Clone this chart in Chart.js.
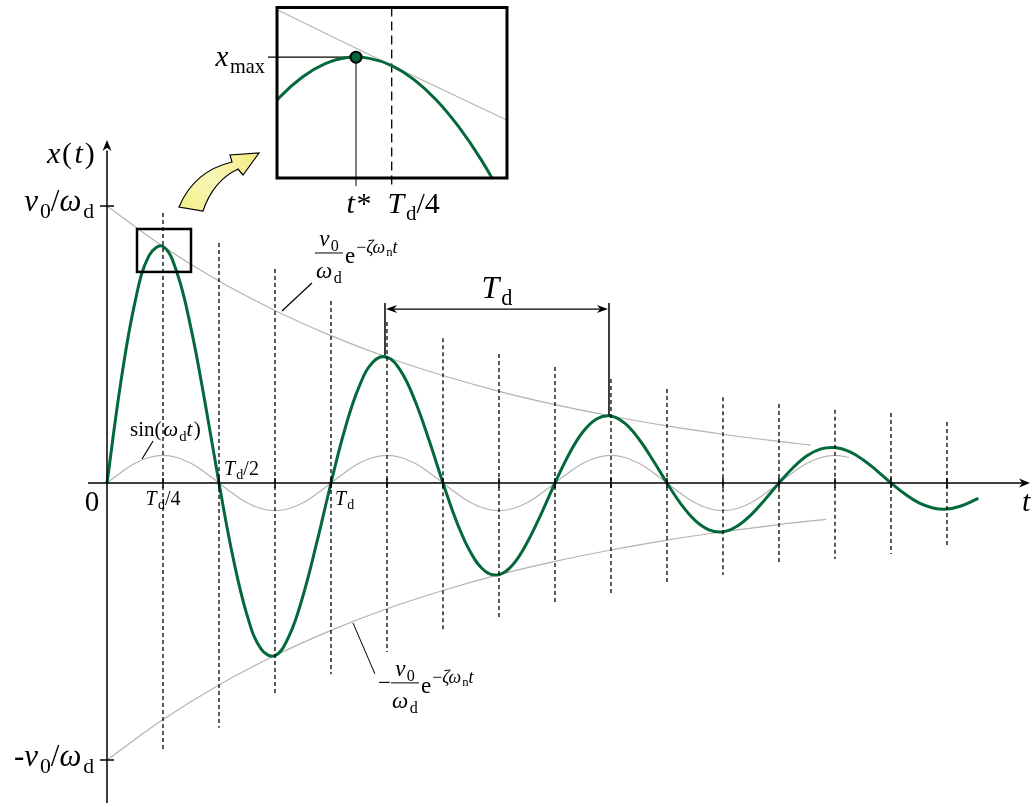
<!DOCTYPE html>
<html>
<head>
<meta charset="utf-8">
<script src="https://cdn.jsdelivr.net/npm/chart.js@4.4.1/dist/chart.umd.min.js"></script>
<style>
    html, body { margin: 0; padding: 0; background: #fff; overflow: hidden; }
    #main { position: absolute; left: 0; top: 0; width: 1032px; height: 807px; }
    #zoom { position: absolute; left: 200px; top: 0; width: 330px; height: 230px; }
</style>
</head>
<body>
<canvas id="main" width="1032" height="807"></canvas>
<canvas id="zoom" width="330" height="230"></canvas>
<script>
// time in units of Td, displacement in units of v0/wd
const tFine = [0, 0.0625, 0.125, 0.1875, 0.25, 0.3125, 0.375, 0.4375, 0.5, 0.5625, 0.625, 0.6875,
    0.75, 0.8125, 0.875, 0.9375, 1, 1.0625, 1.125, 1.1875, 1.25, 1.3125, 1.375, 1.4375, 1.5, 1.5625,
    1.625, 1.6875, 1.75, 1.8125, 1.875, 1.9375, 2, 2.0625, 2.125, 2.1875, 2.25, 2.3125, 2.375, 2.4375,
    2.5, 2.5625, 2.625, 2.6875, 2.75, 2.8125, 2.875, 2.9375, 3, 3.0625, 3.125, 3.1875, 3.25, 3.3125,
    3.375, 3.4375, 3.5, 3.5625, 3.625, 3.6875, 3.75, 3.8125, 3.875, 3.89];
const response = [0, 0.368, 0.653, 0.821, 0.854, 0.759, 0.558, 0.291, 0, -0.268, -0.476, -0.599,
    -0.623, -0.553, -0.407, -0.212, 0, 0.196, 0.347, 0.437, 0.454, 0.403, 0.297, 0.155, 0, -0.143,
    -0.253, -0.318, -0.331, -0.294, -0.216, -0.113, 0, 0.104, 0.185, 0.232, 0.242, 0.215, 0.158, 0.082,
    0, -0.076, -0.135, -0.169, -0.176, -0.156, -0.115, -0.060, 0, 0.055, 0.098, 0.123, 0.128, 0.114,
    0.084, 0.044, 0, -0.040, -0.072, -0.090, -0.094, -0.083, -0.061, -0.055];
const sineWave = [0, 0.038, 0.071, 0.092, 0.1, 0.092, 0.071, 0.038, 0, -0.038, -0.071, -0.092,
    -0.1, -0.092, -0.071, -0.038, 0, 0.038, 0.071, 0.092, 0.1, 0.092, 0.071, 0.038, 0, -0.038,
    -0.071, -0.092, -0.1, -0.092, -0.071, -0.038, 0, 0.038, 0.071, 0.092, 0.1, 0.092, 0.071, 0.038,
    0, -0.038, -0.071, -0.092, -0.1, -0.092, -0.071, -0.038, 0, 0.038, 0.071, 0.092, 0.1, 0.092];
const tEnvTop = [0, 0.25, 0.5, 0.75, 1, 1.25, 1.5, 1.75, 2, 2.25, 2.5, 2.75, 3, 3.14];
const envTop = [1, 0.854, 0.729, 0.623, 0.532, 0.454, 0.388, 0.331, 0.283, 0.242, 0.206, 0.176, 0.150, 0.137];
const tEnvBottom = [0, 0.25, 0.5, 0.75, 1, 1.25, 1.5, 1.75, 2, 2.25, 2.5, 2.75, 3, 3.21];
const envBottom = [-1, -0.854, -0.729, -0.623, -0.532, -0.454, -0.388, -0.331, -0.283, -0.242, -0.206, -0.176, -0.150, -0.131];

// dashed markers every Td/4
const quarterT = [0.25, 0.5, 0.75, 1, 1.25, 1.5, 1.75, 2, 2.25, 2.5, 2.75, 3, 3.25, 3.5, 3.75];
const dashTop = [0.975, 0.866, 0.773, 0.657, 0.581, 0.523, 0.466, 0.419, 0.375, 0.339, 0.310, 0.285, 0.264, 0.253, 0.220];
const dashBottom = [-0.971, -0.884, -0.769, -0.690, -0.610, -0.538, -0.487, -0.437, -0.397, -0.361, -0.332, -0.296, -0.274, -0.256, -0.235];

// Td dimension between 2nd and 3rd peak
const periodT = [1.241, 2.241];
const periodPeak = [0.461, 0.245];
const periodLevel = 0.628;
const periodTop = 0.650;

// zoom box on main chart
const zoomBoxT = [0.134, 0.375];
const zoomBoxV = [0.762, 0.917];

// inset (magnified peak)
const zoomT = [0.19, 0.20, 0.21, 0.22, 0.23, 0.24, 0.25, 0.26, 0.27, 0.28, 0.29, 0.30, 0.31];
const zoomResponse = [0.8245, 0.8382, 0.8482, 0.8548, 0.8580, 0.8576, 0.8539, 0.8469, 0.8366, 0.8231, 0.8066, 0.7869, 0.7645];
const zoomEnvT = [0.19, 0.25, 0.31];
const zoomEnv = [0.887, 0.854, 0.822];
const tStar = 0.234;
const xMax = 0.8582;

const GREEN = '#04693a';
const GRAY = '#b3b3b3';
const FONT = '"Liberation Serif", "DejaVu Serif", serif';

const pts = (ts, vs) => vs.map((v, i) => ({ x: ts[i], y: v }));

// draw a run of math-ish text: i = italic, b = subscript, p = superscript, q = sub inside sup
function rich(ctx, parts, x, y, size, align) {
    const specs = parts.map((p, i) => {
        const st = p[1] || '';
        let s = size;
        let dy = 0;
        if (st.includes('b')) { s = size * 0.7; dy = size * 0.22; }
        if (st.includes('p')) { s = size * 0.78; dy = -size * 0.42; }
        if (st.includes('q')) { s = size * 0.55; dy = -size * 0.3; }
        const font = (st.includes('i') ? 'italic ' : '') + s.toFixed(1) + 'px ' + FONT;
        ctx.font = font;
        let w = ctx.measureText(p[0]).width;
        // italic correction before an upright neighbour
        const next = parts[i + 1];
        if (st.includes('i') && next && !(next[1] || '').includes('i')) w += s * 0.06;
        const prev = parts[i - 1];
        const lead = st.includes('i') && prev && prev[0].endsWith('(') ? s * 0.08 : 0;
        return { font, dy, w: w + lead, lead };
    });
    const w = specs.reduce((sum, s) => sum + s.w, 0);
    let cx = align === 'center' ? x - w / 2 : align === 'right' ? x - w : x;
    ctx.textAlign = 'left';
    ctx.textBaseline = 'alphabetic';
    parts.forEach((p, i) => {
        ctx.font = specs[i].font;
        ctx.fillText(p[0], cx + specs[i].lead, y + specs[i].dy);
        cx += specs[i].w;
    });
    return w;
}

function seg(ctx, x1, y1, x2, y2) {
    ctx.beginPath();
    ctx.moveTo(x1, y1);
    ctx.lineTo(x2, y2);
    ctx.stroke();
}

// stealth style arrow head, tip at (x, y), direction (dx, dy)
function head(ctx, x, y, dx, dy, len, half) {
    const nx = -dy, ny = dx;
    ctx.beginPath();
    ctx.moveTo(x, y);
    ctx.lineTo(x - dx * len + nx * half, y - dy * len + ny * half);
    ctx.lineTo(x - dx * len * 0.7, y - dy * len * 0.7);
    ctx.lineTo(x - dx * len - nx * half, y - dy * len - ny * half);
    ctx.closePath();
    ctx.fill();
}

function fraction(ctx, cx, barY, size, sign) {
    ctx.lineWidth = 1;
    if (sign) {
        rich(ctx, [['−', '']], cx - 14, barY + 7, size, 'right');
    }
    rich(ctx, [['v', 'i'], ['0', 'b']], cx, barY - 7, size, 'center');
    seg(ctx, cx - 14, barY, cx + 14, barY);
    rich(ctx, [['ω', 'i'], ['d', 'b']], cx, barY + 25, size, 'center');
    const ex = cx + 16;
    const w = rich(ctx, [['e', '']], ex, barY + 10, size, 'left');
    rich(ctx, [['−', 'p'], ['ζω', 'ip'], ['n', 'q'], ['t', 'ip']], ex + w + 1, barY + 10, size, 'left');
}

const overlay = {
    id: 'overlay',
    afterDatasetsDraw(chart) {
        const { ctx, scales: { x, y } } = chart;
        const px = (v) => x.getPixelForValue(v);
        const py = (v) => y.getPixelForValue(v);
        ctx.save();
        ctx.strokeStyle = '#000';
        ctx.fillStyle = '#000';

        // dashed quarter-period markers
        ctx.lineWidth = 1.3;
        ctx.setLineDash([4, 3]);
        quarterT.forEach((t, i) => seg(ctx, px(t), py(dashTop[i]), px(t), py(dashBottom[i])));
        ctx.setLineDash([]);

        // axes
        ctx.lineWidth = 1.5;
        seg(ctx, px(-0.085), py(0), px(4.1), py(0));
        head(ctx, px(4.1205), py(0), 1, 0, 11, 4.5);
        seg(ctx, px(0), py(-1.155), px(0), py(1.2));
        head(ctx, px(0), py(1.238), 0, -1, 11, 4.5);
        quarterT.forEach((t) => seg(ctx, px(t), py(0) - 5, px(t), py(0) + 5));
        [1, -1].forEach((v) => seg(ctx, px(0) - 7, py(v), px(0) + 7, py(v)));

        // axis labels
        rich(ctx, [['x', 'i'], ['(', ''], ['t', 'i'], [')', '']], px(0) - 60, py(1.238) + 23, 30, 'left');
        rich(ctx, [['v', 'i'], ['0', 'b'], ['/', ''], ['ω', 'i'], ['d', 'b']], px(0) - 13, py(1) + 5, 31, 'right');
        rich(ctx, [['-', ''], ['v', 'i'], ['0', 'b'], ['/', ''], ['ω', 'i'], ['d', 'b']], px(0) - 13, py(-1) + 6, 31, 'right');
        rich(ctx, [['0', '']], px(0) - 15, py(0) + 28, 29, 'center');
        rich(ctx, [['t', 'i']], px(4.1205) - 8, py(0) + 28, 30, 'left');
        rich(ctx, [['T', 'i'], ['d', 'b'], ['/4', '']], px(0.25), py(0) + 22, 20, 'center');
        rich(ctx, [['T', 'i'], ['d', 'b'], ['/2', '']], px(0.5) + 5, py(0) - 8, 20, 'left');
        rich(ctx, [['T', 'i'], ['d', 'b']], px(1) + 4, py(0) + 22, 20, 'left');

        // curve labels with leaders
        ctx.lineWidth = 1.2;
        rich(ctx, [['sin(', ''], ['ω', 'i'], ['d', 'b'], ['t', 'i'], [')', '']], px(0) + 23, py(0) - 47, 21, 'left');
        seg(ctx, px(0) + 35, py(0) - 24, px(0) + 46, py(0) - 42);
        seg(ctx, px(0.781), py(0.621), px(0.781) + 30, py(0.621) - 28);
        fraction(ctx, px(0.781) + 47, py(0.621) - 58, 23, false);
        seg(ctx, px(1.098), py(-0.505), px(1.098) + 22, py(-0.505) + 51);
        fraction(ctx, px(1.098) + 52, py(-0.505) + 60, 23, true);

        // Td dimension
        ctx.lineWidth = 1.5;
        periodT.forEach((t, i) => seg(ctx, px(t), py(periodTop), px(t), py(periodPeak[i])));
        ctx.lineWidth = 1.2;
        seg(ctx, px(periodT[0]) + 4, py(periodLevel), px(periodT[1]) - 4, py(periodLevel));
        head(ctx, px(periodT[0]) + 1, py(periodLevel), -1, 0, 11, 4);
        head(ctx, px(periodT[1]) - 1, py(periodLevel), 1, 0, 11, 4);
        rich(ctx, [['T', 'i'], ['d', 'b']], (px(periodT[0]) + px(periodT[1])) / 2, py(periodLevel) - 11, 32, 'center');

        // zoom box
        ctx.lineWidth = 2.5;
        const bx = px(zoomBoxT[0]), by = py(zoomBoxV[1]);
        ctx.strokeRect(bx, by, px(zoomBoxT[1]) - bx, py(zoomBoxV[0]) - by);

        // yellow curved arrow towards the inset
        const ax = px(zoomBoxT[1]), ay = py(zoomBoxV[1]);
        ctx.beginPath();
        ctx.moveTo(ax - 12, ay - 22);
        ctx.quadraticCurveTo(ax + 3, ay - 58, ax + 41, ay - 67);
        ctx.lineTo(ax + 39, ay - 74);
        ctx.lineTo(ax + 68, ay - 76);
        ctx.lineTo(ax + 52, ay - 54);
        ctx.lineTo(ax + 47, ay - 60);
        ctx.quadraticCurveTo(ax + 22, ay - 48, ax + 12, ay - 18);
        ctx.closePath();
        const grad = ctx.createLinearGradient(ax - 12, ay - 20, ax + 60, ay - 75);
        grad.addColorStop(0, '#f3ee86');
        grad.addColorStop(0.5, '#faf6b8');
        grad.addColorStop(1, '#f3ee86');
        ctx.fillStyle = grad;
        ctx.fill();
        ctx.lineWidth = 1.2;
        ctx.stroke();
        ctx.restore();
    }
};

const lineSet = (data, color, width, order) => ({
    data,
    showLine: true,
    borderColor: color,
    borderWidth: width,
    pointRadius: 0,
    tension: 0.4,
    fill: false,
    order
});

new Chart(document.getElementById('main'), {
    type: 'scatter',
    data: {
        datasets: [
            lineSet(pts(tFine, response), GREEN, 3, 0),
            lineSet(pts(tFine, sineWave), GRAY, 1.2, 1),
            lineSet(pts(tEnvTop, envTop), GRAY, 1.2, 1),
            lineSet(pts(tEnvBottom, envBottom), GRAY, 1.2, 1)
        ]
    },
    options: {
        responsive: false,
        animation: false,
        events: [],
        layout: { padding: 0 },
        scales: {
            x: { type: 'linear', display: false, min: -0.4777, max: 4.1295 },
            y: { type: 'linear', display: false, min: -1.1697, max: 1.7437 }
        },
        plugins: { legend: { display: false }, tooltip: { enabled: false } }
    },
    plugins: [overlay]
});

const zoomDeco = {
    id: 'zoomDeco',
    beforeDatasetsDraw(chart) {
        const { ctx, chartArea: a, scales: { x, y } } = chart;
        const px = (v) => x.getPixelForValue(v);
        const py = (v) => y.getPixelForValue(v);
        ctx.save();
        ctx.strokeStyle = '#000';
        ctx.lineWidth = 1.3;
        ctx.setLineDash([9, 5]);
        seg(ctx, px(0.25), a.top, px(0.25), a.bottom + 8);
        ctx.setLineDash([]);
        seg(ctx, a.left - 9, py(xMax), px(tStar), py(xMax));
        ctx.strokeStyle = '#3a3a3a';
        seg(ctx, px(tStar), py(xMax), px(tStar), a.bottom + 8);
        ctx.restore();
    },
    afterDatasetsDraw(chart) {
        const { ctx, chartArea: a, scales: { x, y } } = chart;
        const px = (v) => x.getPixelForValue(v);
        const py = (v) => y.getPixelForValue(v);
        ctx.save();
        ctx.strokeStyle = '#000';
        ctx.fillStyle = '#000';
        ctx.lineWidth = 3;
        ctx.strokeRect(a.left, a.top, a.width, a.height);
        rich(ctx, [['x', 'i'], ['max', 'b']], a.left - 12, py(xMax) + 9, 29, 'right');
        rich(ctx, [['t', 'i'], ['*', '']], px(tStar) + 3, a.bottom + 35, 30, 'center');
        rich(ctx, [['T', 'i'], ['d', 'b'], ['/4', '']], px(0.25) + 22, a.bottom + 35, 30, 'center');
        ctx.restore();
    }
};

new Chart(document.getElementById('zoom'), {
    type: 'scatter',
    data: {
        datasets: [
            {
                data: [{ x: tStar, y: xMax }],
                pointRadius: 5.5,
                pointBackgroundColor: GREEN,
                pointBorderColor: '#000',
                pointBorderWidth: 2,
                order: 0
            },
            lineSet(pts(zoomT, zoomResponse), GREEN, 3, 1),
            lineSet(pts(zoomEnvT, zoomEnv), GRAY, 1.2, 2)
        ]
    },
    options: {
        responsive: false,
        animation: false,
        events: [],
        layout: { padding: { left: 77, top: 3, right: 23, bottom: 52 } },
        scales: {
            x: { type: 'linear', display: false, min: 0.19859, max: 0.30168 },
            y: { type: 'linear', display: false, min: 0.7972, max: 0.8833 }
        },
        plugins: { legend: { display: false }, tooltip: { enabled: false } }
    },
    plugins: [zoomDeco]
});
</script>
</body>
</html>
